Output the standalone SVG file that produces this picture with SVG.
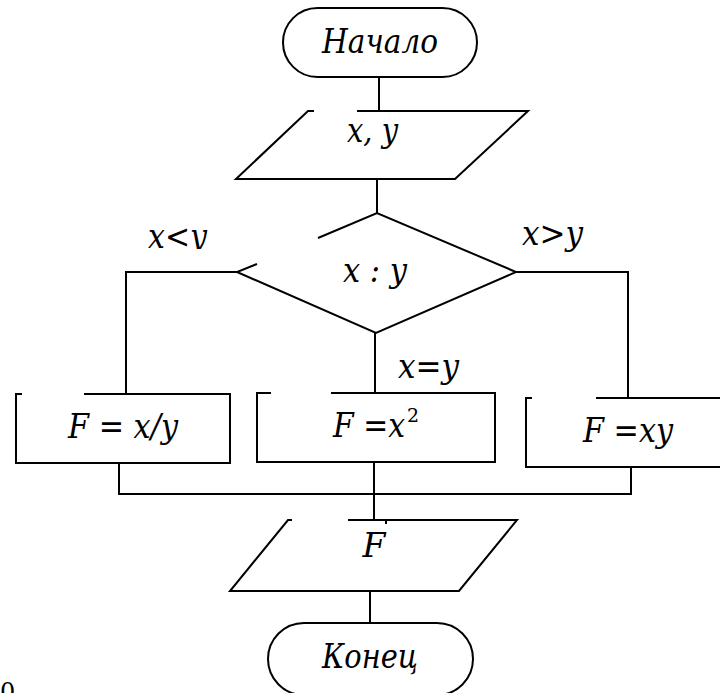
<svg xmlns="http://www.w3.org/2000/svg" width="720" height="693" viewBox="0 0 720 693">
<style>
.ln{fill:none;stroke:#000;stroke-width:2;stroke-linejoin:miter}
.t{font-family:'DejaVu Serif','Liberation Serif',serif;font-style:italic;font-size:33px;fill:#000}
.m{text-anchor:middle}
</style>
<defs>
<clipPath id="clipLt"><rect x="140" y="220" width="80" height="29"/></clipPath>
</defs>
<rect width="720" height="693" fill="#fff"/>
<g id="connectors" class="ln">
<path d="M379,77 L379,111"/>
<path d="M377,179 L377,213"/>
<path d="M237,272 L126,272 L126,394"/>
<path d="M516,272 L628,272 L628,398"/>
<path d="M375,333 L375,393"/>
<path d="M119,463 L119,494 L631,494 L631,467"/>
<path d="M374,462 L374,520"/>
<path d="M386,520 L386,524"/>
<path d="M370,591 L370,623"/>
</g>
<g id="start">
<rect class="ln" x="283" y="8" width="194" height="69" rx="34.5"/>
<text class="t" x="322" y="53" textLength="116" lengthAdjust="spacingAndGlyphs">Начало</text>
</g>
<g id="input">
<path class="ln" d="M314,111 L308,111 L236,179 L455,179 L528,111 L357,111"/>
<text class="t" x="347" y="142" textLength="51" lengthAdjust="spacingAndGlyphs">x, y</text>
</g>
<g id="decision">
<path class="ln" d="M318,238 L377,213 L516,272 L376,333 L237,272 L257,264"/>
<text class="t" x="343" y="282" textLength="64" lengthAdjust="spacingAndGlyphs">x : y</text>
</g>
<g id="label-lt">
<text class="t" x="148" y="248" clip-path="url(#clipLt)" textLength="59" lengthAdjust="spacingAndGlyphs">x&lt;y</text>
</g>
<g id="label-gt">
<text class="t" x="522" y="245" textLength="61" lengthAdjust="spacingAndGlyphs">x&gt;y</text>
</g>
<g id="label-eq">
<text class="t" x="398" y="378" textLength="61" lengthAdjust="spacingAndGlyphs">x=y</text>
</g>
<g id="box1">
<path class="ln" d="M22,394 L16,394 L16,463 L230,463 L230,394 L84,394"/>
<text class="t" x="68" y="438" textLength="110" lengthAdjust="spacingAndGlyphs">F = x/y</text>
</g>
<g id="box2">
<path class="ln" d="M271,393 L257,393 L257,462 L495,462 L495,393 L331,393"/>
<text class="t" x="333" y="437"><tspan textLength="72" lengthAdjust="spacingAndGlyphs">F =x</tspan><tspan x="407" y="422" style="font-size:19px;font-style:normal">2</tspan></text>
</g>
<g id="box3">
<path class="ln" d="M532,398 L526,398 L526,467 L730,467 M730,398 L596,398"/>
<text class="t" x="583" y="442" textLength="90" lengthAdjust="spacingAndGlyphs">F =xy</text>
</g>
<g id="output">
<path class="ln" d="M292,520 L288,520 L230,591 L459,591 L517,520 L348,520"/>
<text class="t m" x="374" y="557">F</text>
</g>
<g id="end">
<rect class="ln" x="268" y="623" width="205" height="72" rx="36"/>
<text class="t" x="322" y="668" textLength="96" lengthAdjust="spacingAndGlyphs">Конец</text>
</g>
<text x="0" y="700" style="font-family:'DejaVu Serif',serif;font-size:24px">0</text>
</svg>
